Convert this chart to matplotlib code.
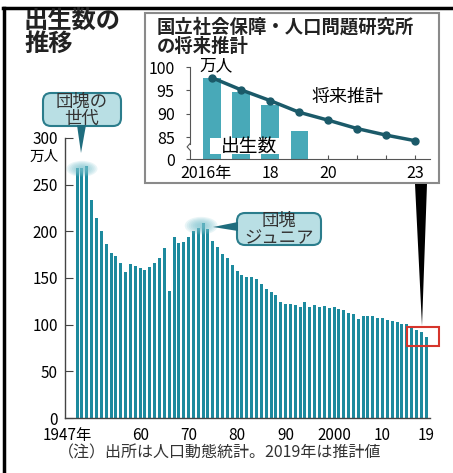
import matplotlib.pyplot as plt
import matplotlib.transforms as mtransforms
from matplotlib.patches import FancyBboxPatch, Polygon, Rectangle, Ellipse
from matplotlib.lines import Line2D
import numpy as np

plt.rcParams['font.family'] = ['Noto Sans CJK JP', 'DejaVu Sans']

# births per year (10k people), 1947-2019 (2019 is an estimate)
years = np.arange(1947, 2020)
births = [267.9, 268.2, 269.7, 233.8, 213.8, 200.5, 186.8, 177.0, 173.1, 166.5,
          156.7, 165.3, 162.6, 160.6, 158.9, 161.9, 166.0, 171.7, 182.4, 136.1,
          193.6, 187.2, 188.9, 193.4, 200.1, 203.9, 209.2, 203.0, 190.1, 183.3,
          175.5, 170.9, 164.3, 157.7, 152.9, 151.5, 150.9, 149.0, 143.2, 138.3,
          134.7, 131.4, 124.7, 122.2, 122.3, 120.9, 118.8, 123.8, 118.7, 120.7,
          119.2, 120.3, 117.8, 119.1, 117.1, 115.4, 112.4, 111.1, 106.3, 109.3,
          109.0, 109.1, 107.0, 107.1, 105.1, 103.7, 103.0, 100.4, 100.6, 97.7,
          94.6, 91.8, 86.4]
main_ticks = [1947, 1960, 1970, 1980, 1990, 2000, 2010, 2019]
main_tick_labels = ['1947年', '60', '70', '80', '90', '2000', '10', '19']

# inset: recent births + projection
ins_years = [2016, 2017, 2018, 2019]
ins_births = [97.7, 94.6, 91.8, 86.4]
proj_years = [2016, 2017, 2018, 2019, 2020, 2021, 2022, 2023]
proj = [97.7, 95.1, 92.8, 90.3, 88.6, 86.8, 85.4, 84.2]
ins_tick_labels = ['2016年', '', '18', '', '20', '', '', '23']

BAR = '#1d8a9e'
BAR2 = '#48a9b8'
LINE = '#1b5a69'
DARK = '#1f6d7e'
GLOW = '#7cc3cf'
BASE = 80.3  # where the broken inset axis puts "0"

W, H = 453, 473
fig = plt.figure(figsize=(W / 100, H / 100), dpi=100)
pix = mtransforms.IdentityTransform()


def P(x, y):
    # picture pixels (top-left origin) -> display coords
    return (x, H - y)


# ---- main chart
ax = fig.add_axes([65 / W, 1 - 418 / H, (430 - 65) / W, (418 - 138) / H])
ax.bar(years, births, width=0.62, color=BAR, zorder=2)
ax.set_xlim(1944.5, 2019.8)
ax.set_ylim(0, 300)
for s in ['top', 'right']:
    ax.spines[s].set_visible(False)
for s in ['left', 'bottom']:
    ax.spines[s].set_color('#444444')
    ax.spines[s].set_linewidth(1)
ax.set_yticks(range(0, 301, 50))
ax.tick_params(axis='y', direction='in', length=6, pad=5, labelsize=11,
               color='#444444')
ax.set_xticks(main_ticks)
ax.set_xticklabels(main_tick_labels)
ax.tick_params(axis='x', length=0, pad=6.5, labelsize=11)
lab0 = ax.get_xticklabels()[0]
lab0.set_transform(lab0.get_transform() +
                   mtransforms.ScaledTranslation(-10 / 100, 0, fig.dpi_scale_trans))

# glows over the two peaks
for cx, cy, w, h in [(1948, 267, 6.4, 17), (1972.6, 206, 6.8, 19)]:
    for i in range(7):
        k = 1 - i * 0.12
        ax.add_patch(Ellipse((cx, cy), w * k, h * k, color=GLOW, alpha=0.16,
                             lw=0, zorder=3))

fig.text(59 / W, 1 - 157 / H, '万人', ha='right', va='center', fontsize=10.5)

# ---- balloons
fig.add_artist(FancyBboxPatch(P(43, 126), 78, 33, boxstyle='round,pad=0,rounding_size=8',
                              transform=pix, fc='#b9dfe4', ec='#2b7d8c', lw=1.5))
fig.add_artist(Polygon([P(77, 125), P(86, 125), P(81, 153)], closed=True,
                       transform=pix, fc=DARK, ec='none'))
fig.text(82 / W, 1 - 110 / H, '団塊の\n世代', ha='center', va='center',
         fontsize=12.5, linespacing=0.95, color='#333333')

fig.add_artist(FancyBboxPatch(P(237, 245), 84, 32, boxstyle='round,pad=0,rounding_size=8',
                              transform=pix, fc='#b9dfe4', ec='#2b7d8c', lw=1.5))
fig.add_artist(Polygon([P(238, 222), P(238, 231), P(213, 227)], closed=True,
                       transform=pix, fc=DARK, ec='none'))
fig.text(279 / W, 1 - 229.5 / H, '団塊\nジュニア', ha='center', va='center',
         fontsize=12.5, linespacing=0.95, color='#333333')

# ---- inset
fig.add_artist(Rectangle(P(145, 183), 294, 170, transform=pix, fill=False,
                         ec='#8a8a8a', lw=1.5))
ax2 = fig.add_axes([190 / W, 1 - 159 / H, 240 / W, 92 / H])
ax2.patch.set_alpha(0)
ax2.bar(ins_years, np.array(ins_births) - BASE, bottom=BASE, width=0.6,
        color=BAR2, zorder=2)
ax2.plot(proj_years, proj, color=LINE, lw=2.5, marker='o', ms=5, zorder=3)
ax2.set_xlim(2015.24, 2023.5)
ax2.set_ylim(BASE, 100)
for s in ['top', 'right']:
    ax2.spines[s].set_visible(False)
for s in ['left', 'bottom']:
    ax2.spines[s].set_color('#555555')
ax2.spines['left'].set_bounds(83.6, 100)
ax2.plot([2015.24, 2015.24], [BASE, 82.2], color='#555555', lw=0.8, clip_on=False)
ax2.plot([2015.24, 2015.14, 2015.24], [82.2, 82.9, 83.6], color='#555555', lw=0.8,
         clip_on=False)
ax2.set_yticks([BASE, 85, 90, 95, 100])
ax2.set_yticklabels(['0', '85', '90', '95', '100'])
ax2.tick_params(axis='y', direction='out', length=3, pad=8, labelsize=11.5,
                color='#555555')
ax2.set_xticks(proj_years)
ax2.set_xticklabels(ins_tick_labels)
ax2.tick_params(axis='x', direction='in', length=3, pad=4, labelsize=11.5,
                color='#555555')
lab = ax2.get_xticklabels()[0]
lab.set_transform(lab.get_transform() +
                  mtransforms.ScaledTranslation(-6 / 100, 0, fig.dpi_scale_trans))

fig.text(157 / W, 1 - 18 / H, '国立社会保障・人口問題研究所\nの将来推計', ha='left',
         va='top', fontsize=13.2, fontweight='bold', linespacing=1.0, color='#222222')
fig.text(199 / W, 1 - 66 / H, '万人', ha='left', va='center', fontsize=12)
fig.text(348 / W, 1 - 97 / H, '将来推計', ha='center', va='center', fontsize=13)
fig.add_artist(Rectangle(P(210, 154), 77, 16, transform=pix, fc='white', ec='none'))
fig.text(249 / W, 1 - 146 / H, '出生数', ha='center', va='center', fontsize=13.5)

# pointer from inset down to the recent bars
fig.add_artist(Polygon([P(415, 184), P(427, 184), P(422, 326)], closed=True,
                       transform=pix, fc='black', ec='none'))
fig.add_artist(Rectangle(P(407, 346), 32, 19, transform=pix, fill=False,
                         ec='#d6352c', lw=1.5))

# ---- titles, note, frame
fig.text(24 / W, 1 - 9 / H, '出生数の\n推移', ha='left', va='top', fontsize=17.5,
         fontweight='bold', linespacing=0.95, color='#222222')
fig.text(58 / W, 1 - 453 / H, '（注）出所は人口動態統計。2019年は推計値', ha='left',
         va='center', fontsize=11.5, color='#333333')

fig.add_artist(Line2D([3, W], [H - 8, H - 8], transform=pix, color='black', lw=2.5))
fig.add_artist(Line2D([4, 4], [0, H - 8], transform=pix, color='black', lw=2.5))

fig.savefig('out.png', dpi=100)
